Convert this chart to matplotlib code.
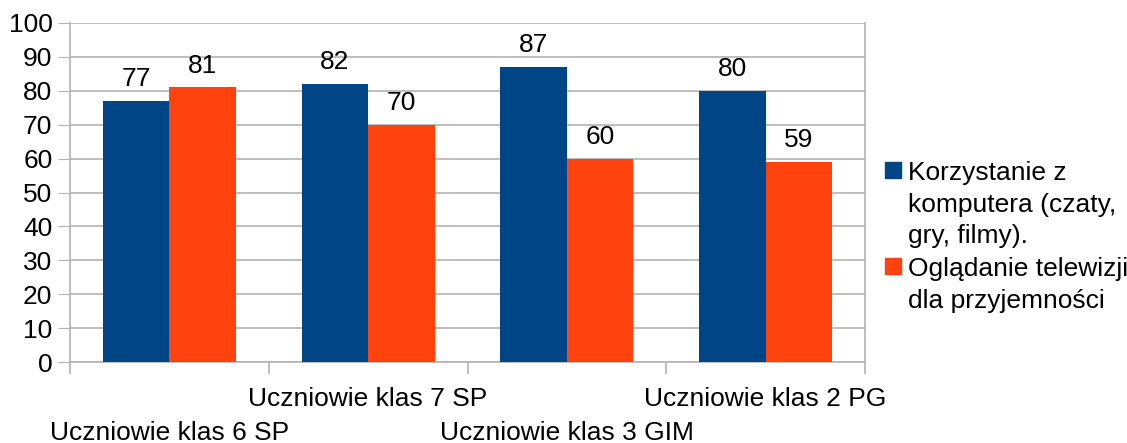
import numpy as np
import matplotlib.pyplot as plt
from matplotlib.patches import Rectangle
from matplotlib.transforms import blended_transform_factory

plt.rcParams['font.family'] = ['Liberation Sans', 'DejaVu Sans']

categories = ["Uczniowie klas 6 SP", "Uczniowie klas 7 SP",
              "Uczniowie klas 3 GIM", "Uczniowie klas 2 PG"]
komputer = [77, 82, 87, 80]
telewizja = [81, 70, 60, 59]
series_names = ["Korzystanie z\nkomputera (czaty,\ngry, filmy).",
                "Oglądanie telewizji\ndla przyjemności"]

blue = "#004586"
orange = "#ff420e"
gray = "#b3b3b3"
fs = 19

W, H = 1127, 443
fig = plt.figure(figsize=(W / 100, H / 100), dpi=100)
ax = fig.add_axes([70 / W, 1 - 362 / H, (865 - 70) / W, (362 - 23) / H])

x = np.arange(len(categories))
bw = 0.335
b1 = ax.bar(x - bw / 2, komputer, bw, color=blue, zorder=3)
b2 = ax.bar(x + bw / 2, telewizja, bw, color=orange, zorder=3)

for bars in (b1, b2):
    for rect in bars:
        h = rect.get_height()
        ax.annotate(f"{h:g}", (rect.get_x() + rect.get_width() / 2, h),
                    xytext=(0, 7), textcoords="offset points",
                    ha="center", va="bottom", fontsize=fs)

ax.set_xlim(-0.5, len(categories) - 0.5)
ax.set_ylim(0, 100)
ax.set_yticks(range(0, 101, 10))
ax.tick_params(axis="y", labelsize=fs, length=8.6, color=gray, pad=4)
ax.yaxis.grid(True, color=gray, linewidth=1.2, zorder=0)

# boundary ticks on x-axis, labels drawn staggered below
ax.set_xticks(np.arange(-0.5, len(categories)))
ax.set_xticklabels([])
ax.tick_params(axis="x", length=8.6, color=gray, width=1.2)

trans = blended_transform_factory(ax.transData, fig.transFigure)
for i, lab in enumerate(categories):
    ypix = 433 if i % 2 == 0 else 399
    ax.text(i, 1 - ypix / H, lab, transform=trans, ha="center", va="center",
            fontsize=fs, clip_on=False)

for side in ["left", "bottom", "right"]:
    ax.spines[side].set_color(gray)
    ax.spines[side].set_linewidth(1.2)
ax.spines["top"].set_visible(False)

# legend
legend_items = [(series_names[0], blue, 162), (series_names[1], orange, 258)]
for name, col, ytop in legend_items:
    fig.patches.append(Rectangle((885 / W, 1 - (ytop + 16) / H), 16 / W, 16 / H,
                                 transform=fig.transFigure, color=col))
    fig.text(908 / W, 1 - (ytop - 1) / H, name, ha="left", va="top",
             fontsize=fs, linespacing=1.4)

fig.savefig("out.png", dpi=100)
